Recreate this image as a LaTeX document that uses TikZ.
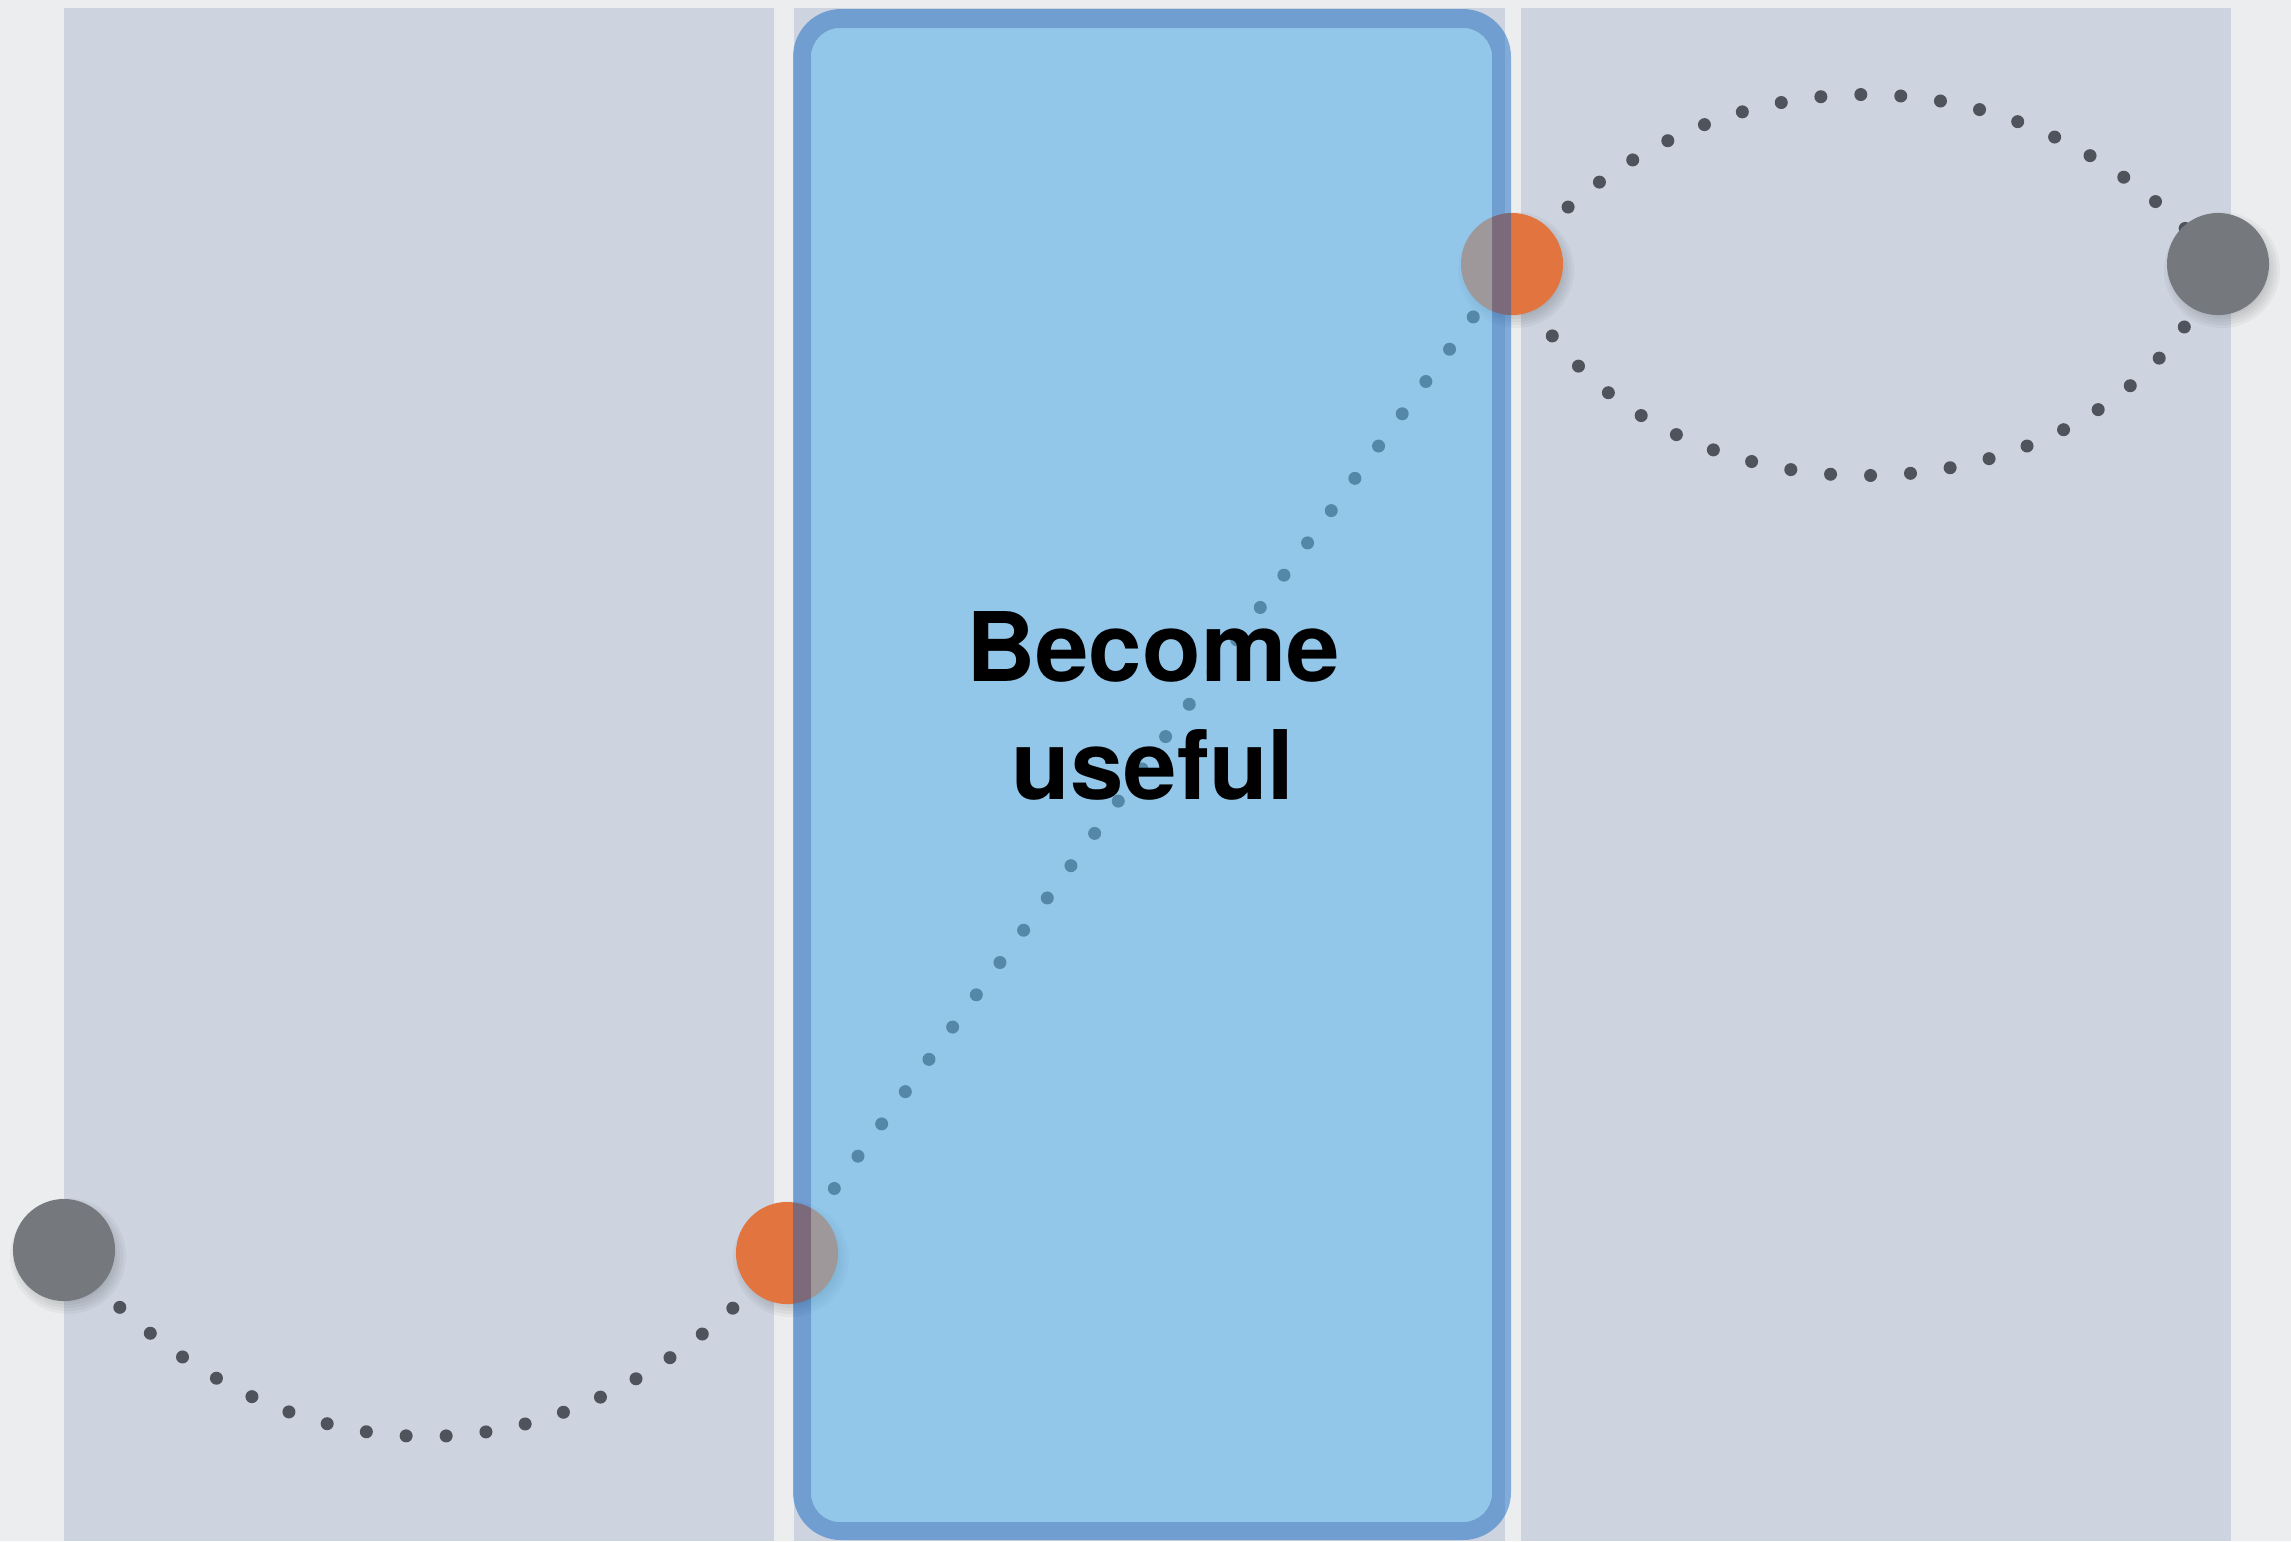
\documentclass[tikz,border=0pt]{standalone}
\usepackage{fontspec}
\setmainfont{TeX Gyre Heros}

\definecolor{paper}{RGB}{236,237,239}
\definecolor{lanegray}{RGB}{205,212,223}
\definecolor{dotgray}{RGB}{79,84,92}
\definecolor{blobgray}{RGB}{117,120,125}
\definecolor{bloborange}{RGB}{226,116,63}
\definecolor{panefill}{RGB}{91,188,245}
\definecolor{rimblue}{RGB}{0,93,193}

\tikzset{
  lane/.style={fill=lanegray},
  trail/.style={draw=dotgray, line width=0.13cm, line cap=round, dash pattern=on 0pt off 0.4cm},
  blob/.style={circle, inner sep=0pt, minimum size=1.02cm},
  grayblob/.style={blob, fill=blobgray},
  orangeblob/.style={blob, fill=bloborange},
  haze/.style={fill=black, opacity=0.035},
  pane/.style={fill=panefill, fill opacity=0.5, rounded corners=0.29cm},
  rim/.style={fill=rimblue, fill opacity=0.45, even odd rule},
  caption/.style={align=center, inner sep=0pt, font=\bfseries\fontsize{27.3}{33.6}\selectfont}
}

\begin{document}
\begin{tikzpicture}[x=0.01cm, y=-0.01cm]
        % Page and the three lanes
        \fill[paper] (0,0) rectangle (2291,1541);
        \useasboundingbox (0,0) rectangle (2291,1541);
        \fill[lane] (64,8) rectangle (774,1541);
        \fill[lane] (794,8) rectangle (1505,1541);
        \fill[lane] (1521,8) rectangle (2231,1541);

        % Stops along the way
        \coordinate (start) at (64,1250);
        \coordinate (entry) at (787,1253);
        \coordinate (exit) at (1512,264);
        \coordinate (goal) at (2218,264);

        % Dotted trail
        \draw[trail] (start) .. controls (279,1498) and (572,1498) .. (entry);
        \draw[trail] (entry) -- (exit);
        \draw[trail] (exit) .. controls (1702,38) and (2028,38) .. (goal)
                            .. controls (2108,546) and (1622,546) .. (exit);

        % Soft shadows under the dots
        \foreach \p in {start,entry,exit,goal}
            \foreach \r in {46,49,52,55,58}
                \fill[haze] ([shift={(4,6)}]\p) circle[radius=\r];

        % Dots
        \node[grayblob] (startdot) at (start) {};
        \node[orangeblob] (entrydot) at (entry) {};
        \node[orangeblob] (exitdot) at (exit) {};
        \node[grayblob] (goaldot) at (goal) {};

        % Blue box over the middle lane
        \fill[rim, rounded corners=0.48cm] (793,9) rectangle (1511,1540)
              [rounded corners=0.29cm] (811,28) rectangle (1492,1522);
        \fill[pane] (811,28) rectangle (1492,1522);
        \node[caption] (title) at (1153,706) {Become\\useful};
\end{tikzpicture}
\end{document}
